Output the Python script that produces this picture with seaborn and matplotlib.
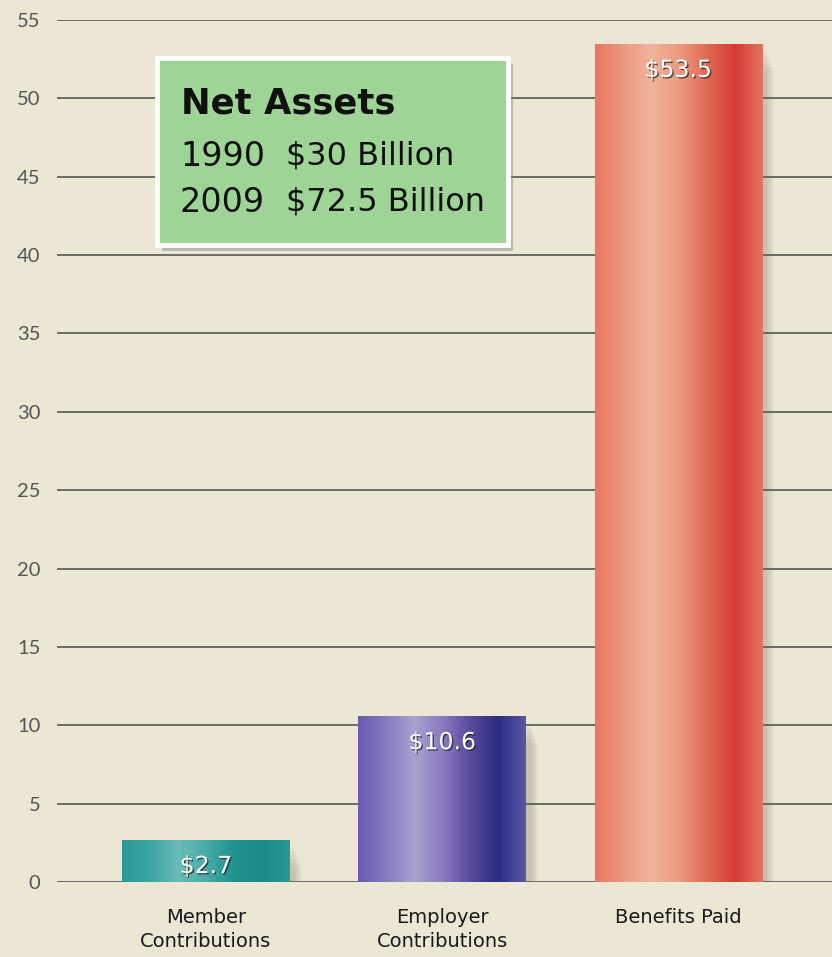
import numpy as np
import pandas as pd
import seaborn as sns
import matplotlib
matplotlib.use("Agg")
import matplotlib.pyplot as plt
from matplotlib.colors import LinearSegmentedColormap
from matplotlib.patches import Rectangle
import matplotlib.patheffects as pe

# Cash flow components, in billions of dollars
categories = ["Member\nContributions", "Employer\nContributions", "Benefits Paid"]
amounts = [2.7, 10.6, 53.5]
value_labels = ["$2.7", "$10.6", "$53.5"]
y_ticks = [0, 5, 10, 15, 20, 25, 30, 35, 40, 45, 50, 55]

# Net assets call-out
box_title = "Net Assets"
box_years = ["1990", "2009"]
box_values = ["$30 Billion", "$72.5 Billion"]

# Horizontal colour ramps used to shade each bar like a cylinder
bar_ramps = [
    ["#2a9896", "#3aa6a2", "#6bbcb6", "#48aca7", "#1f918e", "#1a8a88", "#2a9a97"],
    ["#6a5ab0", "#857ac0", "#aaa2d2", "#8a7cc0", "#5a4a9e", "#2a2d80", "#5a56a8"],
    ["#e6785e", "#ec9880", "#f1b49c", "#eb9a80", "#e06a54", "#d83a34", "#e2765c"],
]

sns.set_theme(style="white")
plt.rcParams["font.family"] = ["DejaVu Sans"]

fig = plt.figure(figsize=(8.32, 9.57), dpi=100)
fig.patch.set_facecolor("#ebe7d4")

ax = fig.add_axes([57 / 832, 75 / 957, 775 / 832, 862 / 957])
ax.set_facecolor("none")

df = pd.DataFrame({"category": categories, "amount": amounts})
sns.barplot(data=df, x="category", y="amount", hue="category",
            palette=[r[0] for r in bar_ramps], legend=False,
            width=0.71, ax=ax, zorder=2, linewidth=0)

ax.set_xlim(-0.63, 2.65)
ax.set_ylim(0, 55)
ax.set_yticks(y_ticks)
ax.set_axisbelow(True)
ax.yaxis.grid(True, color="#505050", linewidth=1.15)
ax.xaxis.grid(False)
for s in ax.spines.values():
    s.set_visible(False)
ax.tick_params(axis="y", length=0, pad=12, labelsize=14.5, labelcolor="#555555")
ax.tick_params(axis="x", length=0, pad=19, labelsize=14, labelcolor="#1a1a1a")
for t in ax.get_yticklabels():
    t.set_fontfamily(["Lato", "DejaVu Sans"])
    t.set_color("#555555")
for t in ax.get_xticklabels():
    t.set_linespacing(1.3)
ax.set_xlabel("")
ax.set_ylabel("")

# Gradient fill and soft shadow for each bar
for patch, ramp, label in zip(ax.patches, bar_ramps, value_labels):
    x0, y0 = patch.get_x(), patch.get_y()
    w, h = patch.get_width(), patch.get_height()
    for k in range(6):
        sh = Rectangle((x0 + 0.02 + 0.006 * k, y0 - 0.5 - 0.25 * k), w, h,
                       facecolor="#6b6555", alpha=0.05, linewidth=0, zorder=1.5)
        ax.add_patch(sh)
    cmap = LinearSegmentedColormap.from_list("bar", ramp)
    grad = np.linspace(0, 1, 256).reshape(1, -1)
    im = ax.imshow(grad, cmap=cmap, aspect="auto",
                   extent=(x0, x0 + w, y0, y0 + h), zorder=2.5,
                   interpolation="bicubic")
    im.set_clip_path(patch)
    val = y0 + h
    ax.annotate(label, (x0 + w / 2, val), xytext=(0, -19),
                textcoords="offset points", ha="center", va="center",
                color="white", fontsize=17, zorder=4,
                path_effects=[pe.SimplePatchShadow(offset=(1, -1),
                                                   shadow_rgbFace="#222222",
                                                   alpha=0.7),
                              pe.Normal()])
ax.set_xlim(-0.63, 2.65)
ax.set_ylim(0, 55)

# Call-out box with net assets
bx0, by0, bx1, by1 = 157 / 832, 1 - 245 / 957, 508 / 832, 1 - 58 / 957
shadow = Rectangle((bx0 + 0.006, by0 - 0.006), bx1 - bx0, by1 - by0,
                   transform=fig.transFigure, facecolor="#8a8575", alpha=0.45,
                   linewidth=0, zorder=5)
fig.add_artist(shadow)
box = Rectangle((bx0, by0), bx1 - bx0, by1 - by0, transform=fig.transFigure,
                facecolor="#9ed596", edgecolor="white", linewidth=3.5, zorder=6)
fig.add_artist(box)

fig.text(181 / 832, 1 - 103 / 957, box_title, fontsize=25.5, fontweight="bold",
         color="#111111", va="center", ha="left", zorder=7)
for i, (yr, v) in enumerate(zip(box_years, box_values)):
    yc = 1 - (156 + 46 * i) / 957
    fig.text(180 / 832, yc, yr, fontsize=24, color="#111111",
             va="center", ha="left", zorder=7)
    fig.text(286 / 832, yc, v, fontsize=23, color="#111111",
             va="center", ha="left", zorder=7)

fig.savefig("out.png", dpi=100, facecolor=fig.get_facecolor())
